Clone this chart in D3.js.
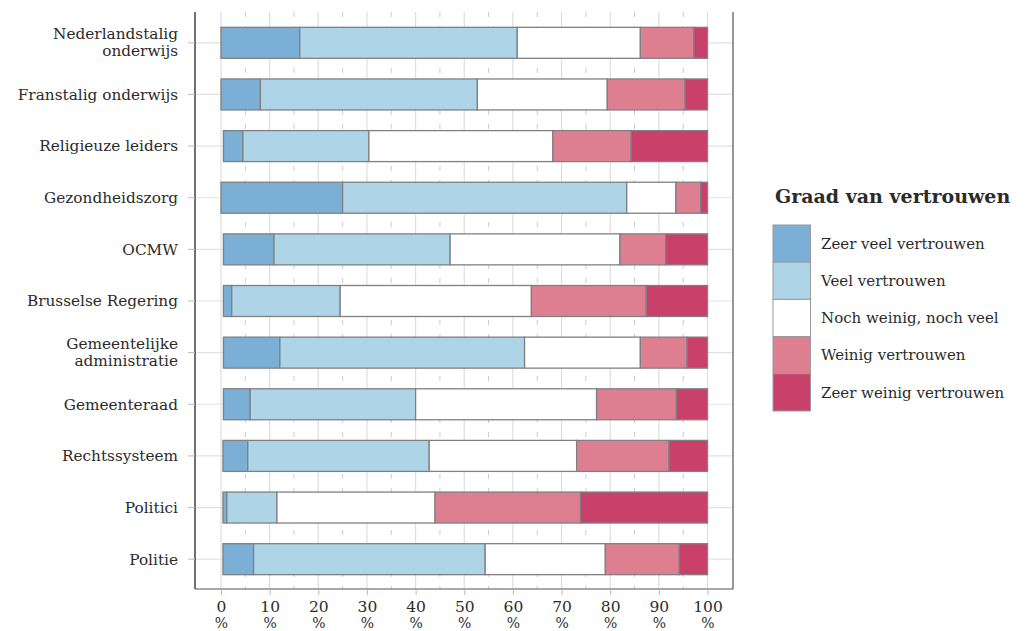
<!DOCTYPE html>
<html><head><meta charset="utf-8">
<script src="https://cdn.jsdelivr.net/npm/d3@7"></script>
<style>body{margin:0;background:#fff}svg{display:block}</style>
</head><body>
<svg id="c" width="1028" height="631"></svg>
<script>
const categories = ["Nederlandstalig\nonderwijs","Franstalig onderwijs","Religieuze leiders","Gezondheidszorg","OCMW","Brusselse Regering","Gemeentelijke\nadministratie","Gemeenteraad","Rechtssysteem","Politici","Politie"];
const seriesNames = ["Zeer veel vertrouwen","Veel vertrouwen","Noch weinig, noch veel","Weinig vertrouwen","Zeer weinig vertrouwen"];
const zeerVeel   = [16.2, 8.1, 4.0, 25.0, 10.4, 1.7, 11.6, 5.5, 5.1, 0.8, 6.3];
const veel       = [44.7,44.6,25.9, 58.4, 36.2,22.3, 50.3,34.0,37.3,10.3,47.6];
const noch       = [25.3,26.7,37.8, 10.1, 34.9,39.3, 23.8,37.2,30.3,32.5,24.7];
const weinig     = [11.0,16.0,16.1,  5.1,  9.4,23.6,  9.6,16.4,19.0,29.9,15.2];
const zeerWeinig = [ 2.8, 4.6,15.7,  1.4,  8.6,12.6,  4.2, 6.4, 7.9,26.1, 5.8];
const colors = ["#7bafd5","#add5e7","#ffffff","#de7f91","#c9406a"];
const xTicks = [0,10,20,30,40,50,60,70,80,90,100];
const xMinor = [5,15,25,35,45,55,65,75,85,95];

const series = [zeerVeel, veel, noch, weinig, zeerWeinig];
const font = "'DejaVu Serif', serif";
const txt = "#2b2b2b";

const svg = d3.select("#c");
const x = d3.scaleLinear().domain([0,100]).range([221,707.5]);
const y = d3.scaleBand().domain(categories).range([17,585]).paddingInner(0.4).paddingOuter(0.2);
const panel = {left:195,right:733,top:12,bottom:589};

// gridlines
svg.append("g").selectAll("line").data(categories).join("line")
  .attr("x1",panel.left).attr("x2",panel.right)
  .attr("y1",d=>y(d)+y.bandwidth()/2).attr("y2",d=>y(d)+y.bandwidth()/2)
  .attr("stroke","#e2e2e2").attr("stroke-width",1.2);
svg.append("g").selectAll("line").data(xTicks).join("line")
  .attr("x1",d=>x(d)).attr("x2",d=>x(d)).attr("y1",panel.top).attr("y2",panel.bottom)
  .attr("stroke","#dedede").attr("stroke-width",1.2);
svg.append("g").selectAll("line").data(xMinor).join("line")
  .attr("x1",d=>x(d)).attr("x2",d=>x(d)).attr("y1",panel.top).attr("y2",panel.bottom)
  .attr("stroke","#cccccc").attr("stroke-width",1).attr("stroke-dasharray","5,9");

// stacked bars, aligned on the right at 100
const rows = categories.map((c,i)=>{
  let end = 100; const segs=[];
  for(let s=series.length-1;s>=0;s--){ const v=series[s][i]; segs.unshift({c, s, x0:end-v, x1:end}); end-=v; }
  return segs;
}).flat();
svg.append("g").selectAll("rect").data(rows).join("rect")
  .attr("x",d=>x(d.x0)).attr("width",d=>x(d.x1)-x(d.x0))
  .attr("y",d=>y(d.c)).attr("height",y.bandwidth())
  .attr("fill",d=>colors[d.s]).attr("stroke","#808080").attr("stroke-width",1.3);

// frame
svg.append("line").attr("x1",panel.left).attr("x2",panel.left).attr("y1",panel.top).attr("y2",panel.bottom).attr("stroke","#111").attr("stroke-width",1.2);
svg.append("line").attr("x1",panel.right).attr("x2",panel.right).attr("y1",panel.top).attr("y2",panel.bottom).attr("stroke","#555").attr("stroke-width",1.2);
svg.append("line").attr("x1",panel.left).attr("x2",panel.right).attr("y1",panel.bottom).attr("y2",panel.bottom).attr("stroke","#555").attr("stroke-width",1.2);

// y axis
const ya = svg.append("g").attr("transform",`translate(${panel.left},0)`)
  .call(d3.axisLeft(y).tickSize(7).tickPadding(10).tickFormat(""));
ya.select(".domain").remove();
ya.selectAll(".tick line").attr("stroke","#bbb");
ya.selectAll(".tick").each(function(d){
  const lines = d.split("\n");
  const t = d3.select(this).append("text").attr("x",-17).attr("text-anchor","end")
    .attr("fill",txt).attr("font-family",font).attr("font-size",15.3);
  lines.forEach((l,k)=>t.append("tspan").attr("x",-17)
    .attr("dy", k===0 ? (lines.length>1? "-0.25em":"0.35em") : "1.12em").text(l));
});

// x axis
const xa = svg.append("g").attr("transform",`translate(0,${panel.bottom})`)
  .call(d3.axisBottom(x).tickValues(xTicks).tickSize(6).tickFormat(""));
xa.select(".domain").remove();
xa.selectAll(".tick line").attr("stroke","#bbb");
xa.selectAll(".tick").each(function(d){
  const g = d3.select(this);
  g.append("text").attr("text-anchor","middle").attr("x",0).attr("y",23)
    .attr("fill",txt).attr("font-family",font).attr("font-size",15.5).text(d);
  g.append("text").attr("text-anchor","middle").attr("x",0).attr("y",38.5)
    .attr("fill",txt).attr("font-family",font).attr("font-size",14).text("%");
});

// legend
const lg = svg.append("g");
lg.append("text").attr("x",775).attr("y",203).attr("fill",txt).attr("font-family",font)
  .attr("font-weight","bold").attr("font-size",19).text("Graad van vertrouwen");
const key = 37.2;
lg.selectAll("rect").data(seriesNames).join("rect")
  .attr("x",773).attr("y",(d,i)=>225+i*key).attr("width",37.5).attr("height",key)
  .attr("fill",(d,i)=>colors[i]).attr("stroke","#9a9a9a").attr("stroke-width",1);
lg.selectAll("text.l").data(seriesNames).join("text").attr("class","l")
  .attr("x",821).attr("y",(d,i)=>225+i*key+key/2).attr("dy","0.35em")
  .attr("fill",txt).attr("font-family",font).attr("font-size",15).text(d=>d);
</script>
</body></html>
